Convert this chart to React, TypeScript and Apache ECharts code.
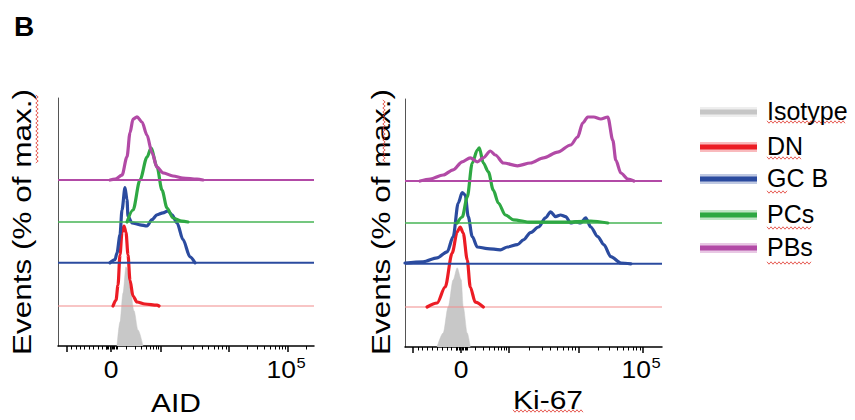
import React, { useEffect, useRef } from "react";
import * as echarts from "echarts";

// Populations, colours and vertical stagger (in % of max units)
const groups = ["Isotype", "DN", "GC B", "PCs", "PBs"];
const lineColors = ["#c6c6c6", "#ec1c24", "#2b4b9f", "#2ea843", "#b24aa6"];
const baseColors = ["#c6c6c6", "#f28b8b", "#2b4b9f", "#46b455", "#b24aa6"];
const baseWidths = [0, 1.2, 2, 1.3, 2];
const offsets = [0, 50, 104, 155, 207.5];
const Y_MAX = 310;
const X_MAX = 256;

// Histograms: [display channel, events % of max]
const aidIsotype = [[59, 0], [62, 30], [65, 66], [68, 99], [69, 97], [72, 74], [76, 44], [80, 20], [85, 0]];
const aidDN = [[55, 0], [58, 7.5], [60, 26], [62, 64], [64, 92], [66, 100], [68, 92], [70, 64], [72, 32], [75, 12.5], [79, 5], [87, 2.5], [99, 1], [101, 0]];
const aidGCB = [[52, 0], [57, 4], [59, 12.5], [62, 35], [64, 66], [67, 94], [69, 79], [70, 58], [74, 50], [82, 47.5], [89, 46], [94, 54], [99, 60], [105, 62.5], [110, 65], [114, 60], [119, 50], [125, 29], [132, 7.5], [137, 0]];
const aidPCs = [[69, 0], [75, 15], [82, 52.5], [89, 81], [93, 92.5], [99, 69], [104, 40], [109, 17.5], [115, 5], [124, 1], [130, 0]];
const aidPBs = [[52, 0], [57, 1], [64, 6], [69, 29], [72, 59], [75, 76], [79, 79], [84, 72.5], [89, 56], [94, 34], [99, 16], [105, 9], [115, 5], [125, 2.5], [139, 1], [145, 0]];

const kiIsotype = [[32, 0], [38, 17.5], [43, 50], [48, 84], [52, 99], [56, 84], [58, 50], [62, 17.5], [65, 0]];
const kiDN = [[22, 0], [32, 5], [40, 25], [47, 67.5], [52, 94], [55, 100], [58, 92.5], [62, 59], [65, 25], [70, 6], [78, 0]];
const kiGCB = [[0, 1], [18, 2.5], [32, 7.5], [42, 15], [48, 34], [53, 76], [57, 89], [60, 86], [63, 59], [67, 34], [72, 21], [82, 19], [95, 17.5], [102, 21], [112, 24], [118, 30], [125, 39], [133, 46], [140, 57.5], [145, 65], [150, 59], [155, 61], [160, 59], [165, 51], [170, 52.5], [175, 51], [180, 57.5], [185, 46], [192, 34], [198, 24], [205, 9], [215, 1], [225, 0]];
const kiPCs = [[52, 0], [57, 7.5], [62, 32.5], [67, 75], [72, 91], [74, 94], [78, 75], [83, 64], [88, 41], [93, 25], [100, 10], [108, 4], [125, 1], [158, 1], [185, 2.5], [202, 0]];
const kiPBs = [[15, 0], [25, 2.5], [38, 7.5], [48, 14], [57, 24], [65, 29], [72, 24], [78, 29], [85, 37.5], [90, 32.5], [98, 22.5], [112, 19], [125, 22.5], [138, 29], [152, 36], [165, 45], [172, 55], [177, 72.5], [182, 80], [188, 80], [195, 77.5], [202, 80], [207, 51], [210, 26], [215, 10], [222, 2.5], [228, 0]];

const panelTitles = ["AID", "Ki-67"];
const panelData = [
  [aidIsotype, aidDN, aidGCB, aidPCs, aidPBs],
  [kiIsotype, kiDN, kiGCB, kiPCs, kiPBs],
];
// Display-channel positions of the decade marks: -10^3, 0, 10^3, 10^4, 10^5
const decadeMarks = [
  [9, 53, 103, 171, 230],
  [8, 56, 103, 173, 237],
];
// Labelled decade marks: "0" and "10^5" (base, exponent)
const zeroLabel = "0";
const topLabel = ["10", "5"];

const FONT = "'Liberation Sans', Arial, Helvetica, sans-serif";

function buildTicks(m: number[]) {
  const [neg, zero, e3, e4, e5] = m;
  const minor: number[] = [];
  for (let k = 1; k <= 9; k++) minor.push(neg + ((zero - neg) * k) / 10);
  for (const d of [-4, -3, -2, -1, 1, 2, 3, 4, 5]) minor.push(zero + d * 1.2);
  const decades = [[zero, e3], [e3, e4], [e4, e5], [e5, e5 + (e5 - e4)]];
  for (const [a, b] of decades) {
    for (let k = 2; k <= 9; k++) {
      const v = a + (b - a) * Math.log10(k);
      if (v < X_MAX) minor.push(v);
    }
  }
  return { major: [neg, zero, e3, e4, e5], minor };
}

function squiggle(x1: number, y1: number, length: number, vertical: boolean) {
  const pts: number[][] = [];
  const step = 2;
  for (let i = 0; i * step <= length; i++) {
    const along = i * step;
    const off = i % 2 === 0 ? -1.2 : 1.2;
    pts.push(vertical ? [x1 + off, y1 + along] : [x1 + along, y1 + off]);
  }
  return pts;
}

const gridBoxes = [
  { left: 58, top: 98, width: 256, height: 248 },
  { left: 405, top: 99, width: 257, height: 248 },
];
const titlePos = [[176, 403], [548, 400]];
const yTitlePos = [[22, 222], [381, 222]];
const legendY = [112, 147, 179, 215, 248];

export default function App() {
  const ref = useRef<HTMLDivElement>(null);

  useEffect(() => {
    if (!ref.current) return;
    const chart = echarts.init(ref.current, undefined, { renderer: "svg" });

    const xAxis: any[] = [];
    const yAxis: any[] = [];
    const series: any[] = [];

    gridBoxes.forEach((_, p) => {
      const t = buildTicks(decadeMarks[p]);
      xAxis.push({
        type: "value",
        gridIndex: p,
        min: 0,
        max: X_MAX,
        position: "bottom",
        axisLine: { show: true, lineStyle: { color: "#000", width: 1.5 } },
        axisTick: { show: true, customValues: t.major, length: 6, lineStyle: { color: "#000", width: 1.5 } },
        axisLabel: { show: false },
        splitLine: { show: false },
      });
      xAxis.push({
        type: "value",
        gridIndex: p,
        min: 0,
        max: X_MAX,
        position: "bottom",
        axisLine: { show: false },
        axisTick: { show: true, customValues: t.minor, length: 3.5, lineStyle: { color: "#000", width: 1 } },
        axisLabel: { show: false },
        splitLine: { show: false },
      });
      yAxis.push({
        type: "value",
        gridIndex: p,
        min: 0,
        max: Y_MAX,
        axisLine: { show: true, lineStyle: { color: "#555", width: 1 } },
        axisTick: { show: false },
        axisLabel: { show: false },
        splitLine: { show: false },
      });

      panelData[p].forEach((hist, g) => {
        const off = offsets[g];
        if (g > 0) {
          series.push({
            type: "line",
            name: groups[g] + " baseline",
            xAxisIndex: p * 2,
            yAxisIndex: p,
            data: [[0, off], [X_MAX, off]],
            symbol: "none",
            silent: true,
            lineStyle: { color: baseColors[g], width: baseWidths[g] },
            z: 2 + g,
          });
        }
        series.push({
          type: "line",
          name: groups[g],
          xAxisIndex: p * 2,
          yAxisIndex: p,
          data: hist.map(([x, v]) => [x, off + v]),
          symbol: "none",
          smooth: 0.3,
          smoothMonotone: "x",
          silent: true,
          lineStyle: g === 0 ? { color: lineColors[0], width: 0.5 } : { color: lineColors[g], width: 3.2, cap: "round", join: "round" },
          areaStyle: g === 0 ? { color: "#c8c8c8", opacity: 1 } : undefined,
          z: 3 + g,
        });
      });
    });

    chart.setOption({
      animation: false,
      backgroundColor: "#fff",
      grid: gridBoxes.map((b) => ({ ...b, containLabel: false })),
      xAxis,
      yAxis,
      series,
    });

    const graphic: any[] = [
      { type: "text", left: 14, top: 12, style: { text: "B", font: `bold 28px ${FONT}`, fill: "#000" } },
    ];

    // "0" and "10^5" tick labels, placed through each panel's x scale
    gridBoxes.forEach((_, p) => {
      const x0 = chart.convertToPixel({ xAxisIndex: p * 2 }, decadeMarks[p][1]) as number;
      const x5 = chart.convertToPixel({ xAxisIndex: p * 2 }, decadeMarks[p][4]) as number;
      graphic.push({
        type: "text",
        x: x0,
        y: 370,
        scaleX: 1.15,
        style: { text: zeroLabel, font: `23px ${FONT}`, fill: "#000", align: "center", verticalAlign: "middle" },
      });
      graphic.push({
        type: "text",
        x: x5 + 8,
        y: 370,
        scaleX: 1.15,
        style: { text: topLabel[0], font: `23px ${FONT}`, fill: "#000", align: "right", verticalAlign: "middle" },
      });
      graphic.push({
        type: "text",
        x: x5 + 8.5,
        y: 363,
        scaleX: 1.1,
        style: { text: topLabel[1], font: `15px ${FONT}`, fill: "#000", align: "left", verticalAlign: "middle" },
      });
    });

    panelTitles.forEach((title, p) => {
      graphic.push({
        type: "text",
        x: titlePos[p][0],
        y: titlePos[p][1],
        scaleX: 1.2,
        style: { text: title, font: `25px ${FONT}`, fill: "#000", align: "center", verticalAlign: "middle" },
      });
      graphic.push({
        type: "text",
        x: yTitlePos[p][0],
        y: yTitlePos[p][1],
        rotation: Math.PI / 2,
        scaleX: 1.26,
        style: { text: "Events (% of max.)", font: `25px ${FONT}`, fill: "#000", align: "center", verticalAlign: "middle" },
      });
    });
    // spell-check squiggles
    const squiggles = [
      squiggle(37, 95, 68, true),
      squiggle(384, 100, 62, true),
      squiggle(513, 411, 70, false),
      squiggle(767, 122, 78, false),
      squiggle(767, 158, 34, false),
      squiggle(767, 192, 21, false),
      squiggle(767, 228, 45, false),
      squiggle(767, 263, 45, false),
    ];
    squiggles.forEach((pts) =>
      graphic.push({ type: "polyline", shape: { points: pts }, style: { stroke: "#e0352b", lineWidth: 0.8, fill: null } })
    );
    groups.forEach((name, i) => {
      const y = legendY[i];
      graphic.push({ type: "line", shape: { x1: 700, y1: y, x2: 757, y2: y }, style: { stroke: lineColors[i], lineWidth: 10, opacity: 0.3 } });
      graphic.push({ type: "line", shape: { x1: 700, y1: y, x2: 757, y2: y }, style: { stroke: lineColors[i], lineWidth: 5 } });
      graphic.push({ type: "text", x: 767, y: y - 1, style: { text: name, font: `25px ${FONT}`, fill: "#000", verticalAlign: "middle" } });
    });

    chart.setOption({ graphic });
    return () => chart.dispose();
  }, []);

  return <div ref={ref} style={{ position: "fixed", left: 0, top: 0, width: 855, height: 420, background: "#fff" }} />;
}
